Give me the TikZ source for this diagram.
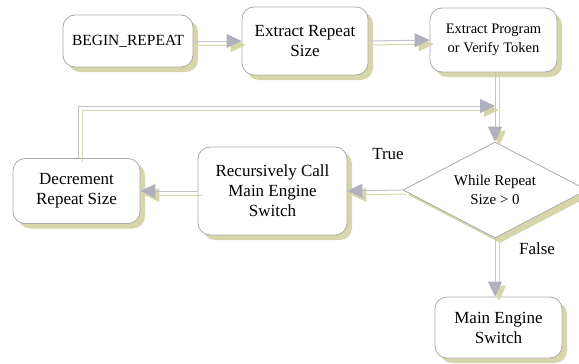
\documentclass[tikz,border=0pt]{standalone}
\usepackage{fontspec}
\setmainfont{Liberation Serif}
\usetikzlibrary{arrows.meta,shapes.geometric,shadows,calc}
\definecolor{khaki}{RGB}{214,214,170}
\definecolor{boxline}{RGB}{170,170,170}
\definecolor{connline}{RGB}{196,196,200}
\definecolor{arrowgray}{RGB}{176,176,190}
\newcommand\myconn[1]{\draw[connshadow] #1; \draw[conn] #1;}
\begin{document}
\begin{tikzpicture}[x=1pt,y=-1pt,
  boxshadow/.style={drop shadow={shadow xshift=5pt, shadow yshift=-5pt, fill=khaki, opacity=1}},
  box/.style={draw=boxline, fill=white, rounded corners=12pt, line width=0.8pt,
    align=center, inner sep=0pt, boxshadow, font=\fontsize{17}{20}\selectfont},
  decision/.style={shape=diamond, draw=boxline, fill=white, line width=0.8pt,
    align=center, inner sep=0pt, aspect=1.9, boxshadow,
    minimum width=184pt, minimum height=96pt, font=\fontsize{15}{19}\selectfont},
  lbl/.style={inner sep=0pt, font=\fontsize{17}{20}\selectfont},
  conn/.style={draw=connline, line width=1pt,
    -{Triangle[length=15pt,width=14pt,color=arrowgray]}},
  connshadow/.style={draw=khaki, line width=1pt,
    transform canvas={shift={(4pt,-4pt)}},
    -{Triangle[length=15pt,width=14pt,color=khaki]}}
]
\useasboundingbox (0,0) rectangle (579,364);

\node[box, minimum width=130pt, minimum height=52pt, font=\fontsize{15.5}{19}\selectfont] (begin) at (128,41) {BEGIN\_REPEAT};
\node[box, minimum width=126pt, minimum height=68pt] (ext) at (305,41) {Extract Repeat\\Size};
\node[box, minimum width=127pt, minimum height=64pt, font=\fontsize{14.5}{19}\selectfont] (prog) at (493.5,40) {Extract Program\\or Verify Token};
\node[decision] (dia) at (495,190) {While Repeat\\Size > 0};
\node[box, minimum width=149pt, minimum height=88pt] (rec) at (272.5,191) {Recursively Call\\Main Engine\\Switch};
\node[box, minimum width=127pt, minimum height=65pt] (dec) at (76.5,191) {Decrement\\Repeat Size};
\node[box, minimum width=127pt, minimum height=61pt] (main) at (498.5,327.5) {Main Engine\\Switch};

\coordinate (j) at (495,106);

\node[lbl] (t) at (388,154) {True};
\node[lbl] (f) at (537,249) {False};

\myconn{(begin.east) -- (ext.west)}
\myconn{(ext.east) -- (prog.west)}
\myconn{(dia.north |- prog.south) -- (dia.north)}
\myconn{([xshift=1.5pt]dec.north) |- (j)}
\myconn{(dia.west) -- (rec.east)}
\myconn{(rec.west) -- (dec.east)}
\myconn{(dia.south) -- (dia.south |- main.north)}
\end{tikzpicture}
\end{document}
